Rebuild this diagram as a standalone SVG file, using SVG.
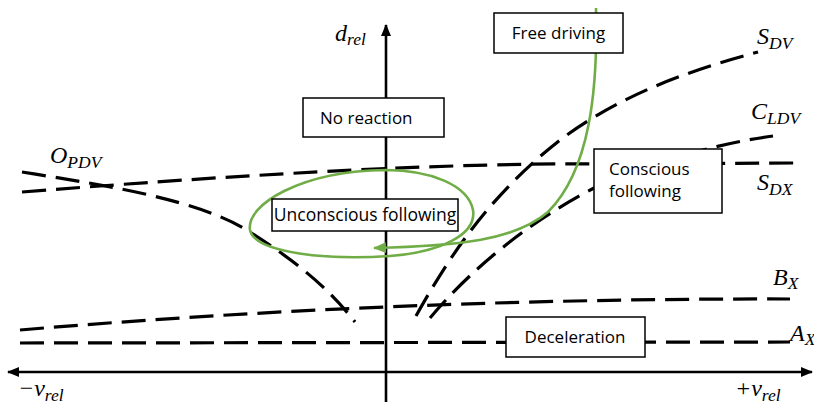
<svg xmlns="http://www.w3.org/2000/svg" width="814" height="409" viewBox="0 0 814 409">
<defs>
<style>
.dash{fill:none;stroke:#000;stroke-width:3.2;stroke-dasharray:24 10}
.axis{fill:none;stroke:#000;stroke-width:2.6}
.green{fill:none;stroke:#70AD47;stroke-width:2.6}
.box{fill:#fff;stroke:#000;stroke-width:1.5}
.lbl{font-family:"Open Sans","Liberation Sans",sans-serif;font-size:17px;fill:#000}
.math{font-family:"Liberation Serif",serif;font-style:italic;font-size:24px;fill:#000}
.sub{font-size:17.5px}
</style>
<marker id="ah" viewBox="0 0 12 10" refX="11" refY="5" markerWidth="12" markerHeight="10" markerUnits="userSpaceOnUse" orient="auto-start-reverse">
<path d="M0,0 L12,5 L0,10 Z" fill="#000"/>
</marker>
<marker id="gh" viewBox="0 0 12 10" refX="11" refY="5" markerWidth="13" markerHeight="11" markerUnits="userSpaceOnUse" orient="auto">
<path d="M0,0 L12,5 L0,10 Z" fill="#70AD47"/>
</marker>
</defs>
<g id="connectors">
<line class="axis" x1="386" y1="402" x2="386" y2="25" marker-end="url(#ah)"/>
<line class="axis" x1="8" y1="372" x2="812" y2="372" marker-start="url(#ah)" marker-end="url(#ah)"/>
<path class="dash" d="M20,343 L790,342"/>
<path class="dash" d="M20,330 Q400,298 790,299"/>
<path class="dash" d="M22,192 Q400,162 600,164 L795,163"/>
<path class="dash" d="M22,172 C110,186 200,200 250,232 S330,290 355,322"/>
<path class="dash" d="M416,316 C450,255 490,195 560,140 C620,95 690,70 758,52"/>
<path class="dash" d="M430,318 C470,270 530,220 600,185 C660,160 720,143 773,136"/>
<path class="green" d="M386,170 C430,170 468,185 473,210 C477,235 440,252 390,256 C330,260 255,254 250,230 C246,205 300,171 386,170 Z"/>
<path class="green" d="M596,8 C598,90 590,170 548,212 C515,240 460,246 374,248" marker-end="url(#gh)"/>
</g>
<g id="free-driving">
<rect class="box" x="494" y="13" width="129" height="40"/>
<text class="lbl" x="558.5" y="39" text-anchor="middle">Free driving</text>
</g>
<g id="no-reaction">
<rect class="box" x="303" y="98" width="141" height="39"/>
<text class="lbl" x="320" y="124">No reaction</text>
</g>
<g id="unconscious-following">
<rect class="box" x="272" y="199" width="186" height="32"/>
<text class="lbl" x="365" y="221" text-anchor="middle" style="font-size:17.5px">Unconscious following</text>
</g>
<g id="conscious-following">
<rect class="box" x="594" y="149" width="128" height="64"/>
<text class="lbl" x="609" y="175">Conscious</text>
<text class="lbl" x="609" y="197">following</text>
</g>
<g id="deceleration">
<rect class="box" x="506" y="317" width="139" height="40"/>
<text class="lbl" x="575" y="343" text-anchor="middle">Deceleration</text>
</g>
<g id="labels">
<text class="math" x="335" y="41">d<tspan class="sub" dy="4">rel</tspan></text>
<text class="math" x="50" y="163">O<tspan class="sub" dy="5">PDV</tspan></text>
<text class="math" x="757" y="44">S<tspan class="sub" dy="5">DV</tspan></text>
<text class="math" x="751" y="119">C<tspan class="sub" dy="5">LDV</tspan></text>
<text class="math" x="757" y="190">S<tspan class="sub" dy="5">DX</tspan></text>
<text class="math" x="773" y="285">B<tspan class="sub" dy="4">X</tspan></text>
<text class="math" x="790" y="341">A<tspan class="sub" dy="4">X</tspan></text>
<text class="math" x="18" y="396">−v<tspan class="sub" dy="5">rel</tspan></text>
<text class="math" x="735" y="396">+v<tspan class="sub" dy="5">rel</tspan></text>
</g>
</svg>
